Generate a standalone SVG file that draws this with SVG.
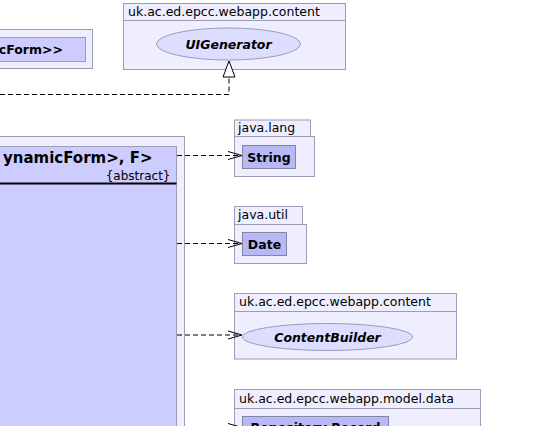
<svg xmlns="http://www.w3.org/2000/svg" width="541" height="426" viewBox="0 0 541 426">
<defs>
<style>
.pkg{fill:#EEEEFF;stroke:#9C9CB4;stroke-width:1}
.cls{fill:#CCCCFF;stroke:#9C9CB4;stroke-width:1}
.ext{fill:#B8B8F5;stroke:#8484A8;stroke-width:1}
.ifc{fill:#DDDDFF;stroke:#9C9CB4;stroke-width:1}
.pt{font-family:"DejaVu Sans",sans-serif;font-size:12.5px;fill:#000}
.cn{font-family:"DejaVu Sans",sans-serif;font-size:12.5px;font-weight:bold;fill:#000}
.in{font-family:"DejaVu Sans",sans-serif;font-size:12.5px;font-weight:bold;font-style:italic;fill:#000}
.dash{fill:none;stroke:#000;stroke-width:1;stroke-dasharray:5,3}
.head{fill:none;stroke:#000;stroke-width:1}
</style>
</defs>
<g id="pkg-topleft">
<rect class="pkg" x="-10.5" y="29.5" width="103" height="39"/>
<rect class="cls" x="-10.5" y="37.5" width="96" height="24"/>
<text class="cn" x="63" y="54" text-anchor="end">cForm&gt;&gt;</text>
</g>
<g id="pkg-uigenerator">
<rect class="pkg" x="123.5" y="3.5" width="222" height="66"/>
<line x1="123.5" y1="20.5" x2="345.5" y2="20.5" stroke="#9C9CB4"/>
<text class="pt" x="128" y="16">uk.ac.ed.epcc.webapp.content</text>
<ellipse class="ifc" cx="228.5" cy="44" rx="72" ry="16"/>
<text class="in" x="228.5" y="49" text-anchor="middle">UIGenerator</text>
</g>
<g id="main-class">
<rect class="pkg" x="-10.5" y="136.5" width="195" height="300"/>
<rect class="cls" x="-10.5" y="146.5" width="187" height="290"/>
<text class="cn" x="152.5" y="162.5" text-anchor="end" style="font-size:15px">ynamicForm&gt;, F&gt;</text>
<text class="pt" x="170.5" y="180" text-anchor="end" style="font-size:12px">{abstract}</text>
<line x1="-10" y1="183.5" x2="176.5" y2="183.5" stroke="#000" stroke-width="2"/>
</g>
<g id="pkg-java-lang">
<rect class="pkg" x="234.5" y="120" width="76" height="16.5"/>
<rect class="pkg" x="234.5" y="136.5" width="80" height="40"/>
<text class="pt" x="238" y="132">java.lang</text>
<rect class="ext" x="242.5" y="145.5" width="53" height="23"/>
<text class="cn" x="269" y="162" text-anchor="middle">String</text>
</g>
<g id="pkg-java-util">
<rect class="pkg" x="234.5" y="206.5" width="68" height="18"/>
<rect class="pkg" x="234.5" y="224.5" width="72" height="39"/>
<text class="pt" x="238" y="219">java.util</text>
<rect class="ext" x="242.5" y="232.5" width="44" height="23"/>
<text class="cn" x="264.5" y="249" text-anchor="middle">Date</text>
</g>
<g id="pkg-contentbuilder">
<rect class="pkg" x="234.5" y="293.5" width="222" height="65.5"/>
<line x1="234.5" y1="311.5" x2="456.5" y2="311.5" stroke="#9C9CB4"/>
<text class="pt" x="239" y="306">uk.ac.ed.epcc.webapp.content</text>
<ellipse class="ifc" cx="327.5" cy="337" rx="85" ry="13.5"/>
<text class="in" x="327.5" y="341.5" text-anchor="middle">ContentBuilder</text>
</g>
<g id="pkg-model-data">
<rect class="pkg" x="234.5" y="389.5" width="246" height="50"/>
<line x1="234.5" y1="408.5" x2="480.5" y2="408.5" stroke="#9C9CB4"/>
<text class="pt" x="239" y="403">uk.ac.ed.epcc.webapp.model.data</text>
<rect class="ext" x="242.5" y="416.5" width="146" height="23"/>
<text class="cn" x="315.5" y="432" text-anchor="middle">Repository Record</text>
</g>
<g id="connectors">
<polyline class="dash" points="0,94.5 229,94.5 229,77"/>
<polygon points="229,61 223,77 235,77" fill="#fff" stroke="#000"/>
<line class="dash" x1="177" y1="155.5" x2="241" y2="155.5"/>
<polyline class="head" points="228,151.5 242,155.5 228,159.5"/>
<line class="dash" x1="177" y1="243.5" x2="241" y2="243.5"/>
<polyline class="head" points="228,239.5 242,243.5 228,247.5"/>
<line class="dash" x1="177" y1="335" x2="241" y2="335"/>
<polyline class="head" points="228,331 242,335 228,339"/>
<line class="dash" x1="177" y1="427.5" x2="241" y2="427.5"/>
<polyline class="head" points="228,423.5 242,427.5 228,431.5"/>
</g>
</svg>
